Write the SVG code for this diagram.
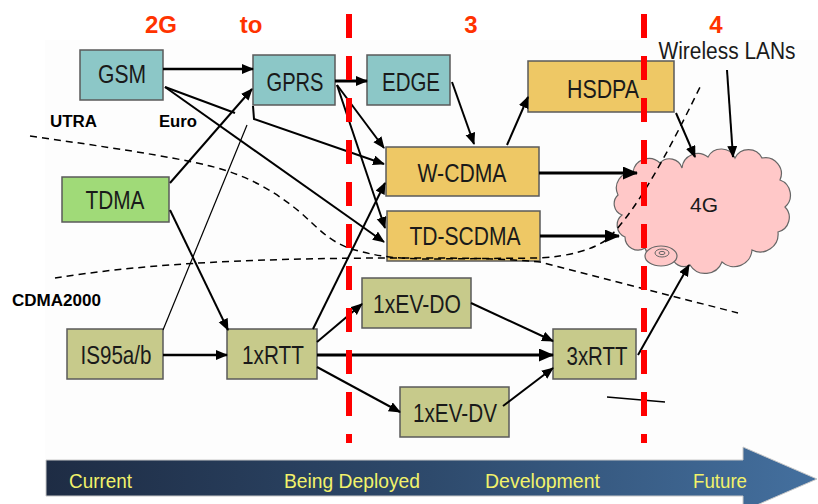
<svg xmlns="http://www.w3.org/2000/svg" width="818" height="504" viewBox="0 0 818 504">
<style>
.box{stroke:#5a5a5a;stroke-width:1.5}
.teal{fill:#8CC7C7}
.green{fill:#A0DA78}
.gold{fill:#EEC865}
.olive{fill:#C7CA8B}
.lbl{font-family:"Liberation Sans",Arial,sans-serif;font-size:25.5px;fill:#1a1a1a;text-anchor:middle}
.hdr{font-family:"Liberation Sans",Arial,sans-serif;font-size:24px;font-weight:bold;fill:#FF3300;text-anchor:middle}
.reg{font-family:"Liberation Sans",Arial,sans-serif;font-size:16px;font-weight:bold;fill:#000}
.tl{font-family:"Liberation Sans",Arial,sans-serif;font-size:20px;fill:#F2F26A}
.c{fill:none;stroke:#000;stroke-width:2}
.ca{marker-end:url(#ah)}
.ct{stroke-width:3;marker-end:url(#ahL)}
.dash{fill:none;stroke:#000;stroke-width:1.5;stroke-dasharray:7 5}
.red{stroke:#FF0000;stroke-width:6;stroke-dasharray:24 18}
</style>
<defs>
<marker id="ah" markerUnits="userSpaceOnUse" markerWidth="13" markerHeight="11" refX="11" refY="5" orient="auto">
<path d="M0,0 L12,5 L0,10 z" fill="#000"/>
</marker>
<marker id="ahL" markerUnits="userSpaceOnUse" markerWidth="16" markerHeight="13" refX="14" refY="6.5" orient="auto">
<path d="M0,0 L15,6.5 L0,13 z" fill="#000"/>
</marker>
<linearGradient id="bar" x1="0" y1="0" x2="1" y2="0">
<stop offset="0" stop-color="#1E2C44"/>
<stop offset="0.5" stop-color="#2E4A6C"/>
<stop offset="1" stop-color="#44709F"/>
</linearGradient>
</defs>
<rect x="0" y="0" width="818" height="504" fill="#fff"/>
<rect x="45" y="40" width="773" height="420" fill="#FDFDFD"/>

<g id="headers">
<text class="hdr" x="161" y="33">2G</text>
<text class="hdr" x="251" y="33">to</text>
<text class="hdr" x="471" y="33">3</text>
<text class="hdr" x="716" y="33">4</text>
</g>

<g id="regions">
<text class="reg" x="50" y="127" textLength="47" lengthAdjust="spacingAndGlyphs">UTRA</text>
<text class="reg" x="159" y="127" textLength="38" lengthAdjust="spacingAndGlyphs">Euro</text>
<text class="reg" x="12" y="306" textLength="89" lengthAdjust="spacingAndGlyphs">CDMA2000</text>
</g>

<g id="n4G">
<path d="M633,172 A16,16 0 0 1 660,163 A13,13 0 0 1 682,168 A16,16 0 0 1 708,157 A15,15 0 0 1 735,158 A15,15 0 0 1 762,158 A16,16 0 0 1 780,180 A16,16 0 0 1 785,207 A15,15 0 0 1 778,232 A18,18 0 0 1 752,250 A18,18 0 0 1 722,262 A18,18 0 0 1 690,265 A12,12 0 0 1 672,255 A16,16 0 0 1 645,248 A13,13 0 0 1 625,237 A13,13 0 0 1 622,215 A12,12 0 0 1 618,195 A16,16 0 0 1 633,172 Z" fill="#FFC8C8" stroke="#666" stroke-width="1.2"/>
<ellipse cx="661" cy="256" rx="16" ry="10" fill="#FFC8C8" stroke="#666" stroke-width="1.2"/>
<ellipse cx="662" cy="253" rx="7" ry="4" fill="none" stroke="#666" stroke-width="1"/>
<ellipse cx="662" cy="253" rx="3" ry="1.6" fill="none" stroke="#666" stroke-width="1"/>
<text class="lbl" x="704" y="212" style="font-size:21px" textLength="28" lengthAdjust="spacingAndGlyphs">4G</text>
</g>

<g id="wlan">
<text class="lbl" x="727" y="59" style="font-size:23px" textLength="137" lengthAdjust="spacingAndGlyphs">Wireless LANs</text>
</g>

<g id="GSM"><rect class="box teal" x="80" y="50" width="83" height="50"/><text class="lbl" x="122" y="83" textLength="48" lengthAdjust="spacingAndGlyphs">GSM</text></g>
<g id="GPRS"><rect class="box teal" x="253" y="55" width="82" height="50"/><text class="lbl" x="295" y="91" textLength="57" lengthAdjust="spacingAndGlyphs">GPRS</text></g>
<g id="EDGE"><rect class="box teal" x="367" y="55" width="83" height="50"/><text class="lbl" x="411" y="91" textLength="58" lengthAdjust="spacingAndGlyphs">EDGE</text></g>
<g id="TDMA"><rect class="box green" x="62" y="177" width="107" height="45"/><text class="lbl" x="115" y="209" textLength="59" lengthAdjust="spacingAndGlyphs">TDMA</text></g>
<g id="HSDPA"><rect class="box gold" x="528" y="61" width="146" height="51"/><text class="lbl" x="603" y="98" textLength="72" lengthAdjust="spacingAndGlyphs">HSDPA</text></g>
<g id="WCDMA"><rect class="box gold" x="386" y="147" width="153" height="49"/><text class="lbl" x="462" y="182" textLength="89" lengthAdjust="spacingAndGlyphs">W-CDMA</text></g>
<g id="TDSCDMA"><rect class="box gold" x="387" y="211" width="153" height="50"/><text class="lbl" x="465" y="245" textLength="111" lengthAdjust="spacingAndGlyphs">TD-SCDMA</text></g>
<g id="IS95"><rect class="box olive" x="67" y="329" width="96" height="50"/><text class="lbl" x="116" y="364" textLength="71" lengthAdjust="spacingAndGlyphs">IS95a/b</text></g>
<g id="RTT1"><rect class="box olive" x="227" y="329" width="90" height="50"/><text class="lbl" x="273" y="364" textLength="62" lengthAdjust="spacingAndGlyphs">1xRTT</text></g>
<g id="EVDO"><rect class="box olive" x="362" y="278" width="109" height="50"/><text class="lbl" x="417" y="313" textLength="88" lengthAdjust="spacingAndGlyphs">1xEV-DO</text></g>
<g id="EVDV"><rect class="box olive" x="400" y="387" width="109" height="50"/><text class="lbl" x="455" y="422" textLength="84" lengthAdjust="spacingAndGlyphs">1xEV-DV</text></g>
<g id="RTT3"><rect class="box olive" x="553" y="329" width="83" height="50"/><text class="lbl" x="597" y="365" textLength="61" lengthAdjust="spacingAndGlyphs">3xRTT</text></g>

<g id="connectors">
<path class="c ca" style="stroke-width:2.5" d="M163,69 L253,69"/>
<path class="c ca" style="stroke-width:3" d="M335,81 L367,81"/>
<path class="c" d="M165,87 L235,113"/>
<path class="c ca" d="M253,106 L254,119 L384,164"/>
<path class="c ca" d="M165,87 L384,242"/>
<path class="c ca" d="M337,85 L384,148"/>
<path class="c ca" d="M337,85 L385,228"/>
<path class="c ca" d="M170,183 L252,89"/>
<path class="c ca" d="M170,210 L228,330"/>
<path class="c" style="stroke-width:1.2" d="M163,330 L247,125"/>
<path class="c ca" style="stroke-width:2.5" d="M163,355 L227,355"/>
<path class="c ca" d="M313,329 L385,183"/>
<path class="c ca" d="M452,82 L474,144"/>
<path class="c ca" d="M507,145 L528,97"/>
<path class="c ct" d="M539,173 L637,173"/>
<path class="c ct" d="M540,236 L619,236"/>
<path class="c ca" d="M676,113 L695,157"/>
<path class="c ca" d="M727,70 L733,157"/>
<path class="c ca" d="M317,342 L362,304"/>
<path class="c ct" d="M317,355 L553,355"/>
<path class="c ca" d="M317,367 L400,412"/>
<path class="c ca" d="M471,303 L553,341"/>
<path class="c ca" d="M503,406 L553,368"/>
<path class="c ca" d="M638,355 L689,265"/>
<path class="c" style="stroke-width:1.5" d="M607,397 L665,402"/>
</g>

<g id="boundaries">
<path class="dash" d="M30,136 C100,146 170,156 210,166 C250,176 275,192 300,212 C318,228 330,243 355,250 C380,257 400,259 430,259 L540,258 C570,256 592,250 606,240 C640,210 680,128 702,83"/>
<path class="dash" d="M55,278 C130,266 230,258 400,258 C460,258 500,258 540,262 L738,313"/>
</g>

<g id="phases">
<line class="red" x1="349" y1="14" x2="349" y2="443"/>
<line class="red" x1="644" y1="14" x2="644" y2="443"/>
</g>

<g id="timeline">
<path d="M46,460 L743,460 L743,447 L817,479 L743,511 L743,496 L46,496 Z" fill="url(#bar)" stroke="#C8C8C8" stroke-width="1"/>
<text class="tl" x="69" y="488" textLength="63" lengthAdjust="spacingAndGlyphs">Current</text>
<text class="tl" x="284" y="488" textLength="136" lengthAdjust="spacingAndGlyphs">Being Deployed</text>
<text class="tl" x="485" y="488" textLength="115" lengthAdjust="spacingAndGlyphs">Development</text>
<text class="tl" x="693" y="488" textLength="54" lengthAdjust="spacingAndGlyphs">Future</text>
</g>
</svg>
